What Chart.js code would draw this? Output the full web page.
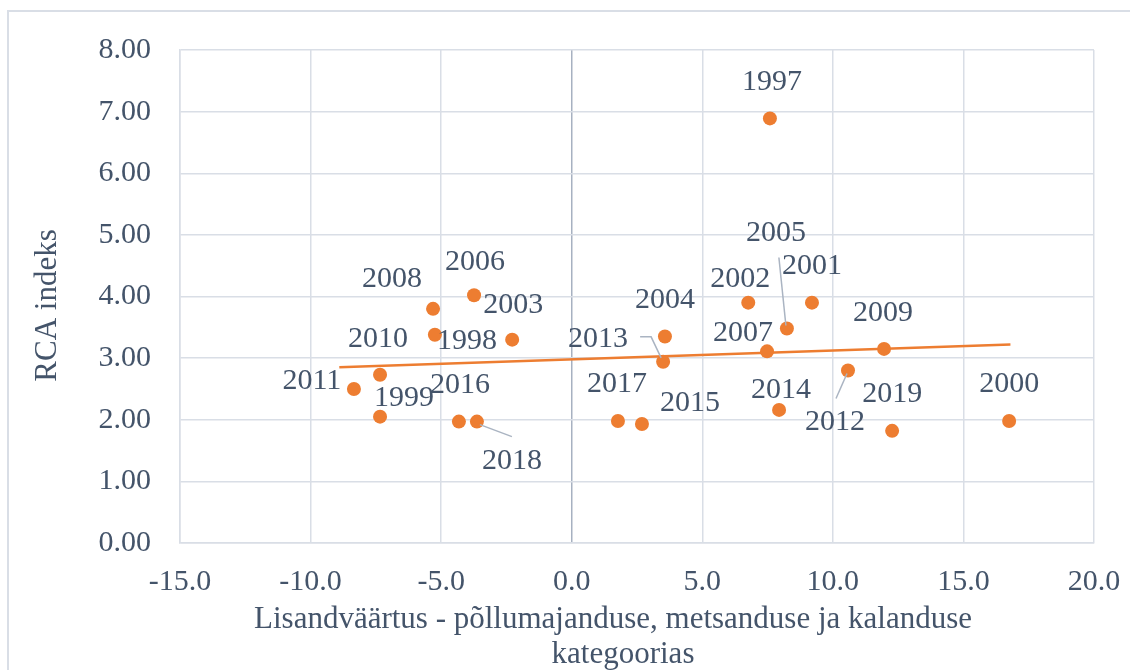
<!DOCTYPE html>
<html>
<head>
<meta charset="utf-8">
<script src="https://cdn.jsdelivr.net/npm/chart.js@4/dist/chart.umd.min.js"></script>
<style>
html, body { margin: 0; padding: 0; background: #fff; }
</style>
</head>
<body>
<canvas id="grafico" width="1130" height="670"></canvas>
<script>
// andmed (loetud jooniselt)
const aastad = ['1997','1998','1999','2000','2001','2002','2003','2004','2005','2006','2007','2008',
                '2009','2010','2011','2012','2013','2014','2015','2016','2017','2018','2019']
const lisandvaartus = [7.59, -5.24, -7.34, 16.75, 9.20, 6.76, -2.28, 3.57, 8.24, -3.74, 7.48, -5.31,
                       11.96, -7.34, -8.34, 10.58, 3.50, 7.94, 2.69, -4.32, 1.77, -3.63, 12.27]
const rcaIndeks = [6.89, 3.38, 2.05, 1.98, 3.90, 3.90, 3.30, 3.35, 3.48, 4.02, 3.11, 3.80,
                   3.15, 2.73, 2.50, 2.80, 2.94, 2.16, 1.93, 1.97, 1.98, 1.97, 1.82]
const trendX = [-8.9, 16.8]
const trendY = [2.85, 3.22]

const yTitle = 'RCA indeks'
const xTitle = ['Lisandväärtus - põllumajanduse, metsanduse ja kalanduse', 'kategoorias']

// siltide nihe punkti suhtes (px)
const sildiNihe = [[2,-36],[32,6],[24,-19],[0,-37],[0,-37],[-8,-24],[1,-35],[0,-36],[-11,-95],[1,-33],[-24,-18],[-41,-30],
                   [-1,-36],[-2,-36],[-42,-8],[-13,52],[-65,-23],[2,-20],[48,-21],[1,-36],[-1,-37],[35,40],[0,-37]]
// juhtjooned
const juhtjooned = {
    '2005': [[-8,-71],[-1,-3]],
    '2012': [[-12,28],[-1,3]],
    '2013': [[-23,-25],[-12,-25],[-2,-4]],
    '2018': [[3,3],[35,15]]
}

const tekstiVarv = '#44546a'
const ruuduVarv = '#d9dee6'
const oranz = '#ed7d31'
const font = 'Liberation Serif'

const punktid = lisandvaartus.map((x, i) => ({ x: x, y: rcaIndeks[i] }))
const trend = trendX.map((x, i) => ({ x: x, y: trendY[i] }))

const raamPlugin = {
    id: 'raam',
    beforeDraw(chart) {
        const ctx = chart.ctx
        ctx.save()
        ctx.strokeStyle = ruuduVarv
        ctx.lineWidth = 2
        ctx.strokeRect(8, 11, 1200, 800)
        ctx.restore()
    },
    afterDraw(chart) {
        const ctx = chart.ctx
        const area = chart.chartArea
        ctx.save()
        ctx.fillStyle = tekstiVarv
        ctx.font = `31px "${font}"`
        ctx.textAlign = 'center'
        ctx.textBaseline = 'middle'
        ctx.fillText(xTitle[0], 613, 620)
        ctx.fillText(xTitle[1], 623, 655)
        ctx.translate(48, (area.top + area.bottom) / 2 + 9)
        ctx.rotate(-Math.PI / 2)
        ctx.fillText(yTitle, 0, 0)
        ctx.restore()
    }
}

const siltPlugin = {
    id: 'sildid',
    afterDatasetsDraw(chart) {
        const ctx = chart.ctx
        const meta = chart.getDatasetMeta(0)
        ctx.save()
        ctx.strokeStyle = '#aab4c2'
        ctx.lineWidth = 1.5
        meta.data.forEach((p, i) => {
            const jj = juhtjooned[aastad[i]]
            if (jj) {
                ctx.beginPath()
                jj.forEach((o, k) => {
                    if (k == 0) ctx.moveTo(p.x + o[0], p.y + o[1])
                    else ctx.lineTo(p.x + o[0], p.y + o[1])
                })
                ctx.stroke()
            }
        })
        ctx.fillStyle = tekstiVarv
        ctx.font = `30px "${font}"`
        ctx.textAlign = 'center'
        ctx.textBaseline = 'middle'
        meta.data.forEach((p, i) => {
            ctx.fillText(aastad[i], p.x + sildiNihe[i][0], p.y + sildiNihe[i][1])
        })
        ctx.restore()
    }
}

const config = {
    type: 'scatter',
    data: {
        datasets: [{
            label: 'RCA',
            data: punktid,
            backgroundColor: oranz,
            borderColor: oranz,
            pointRadius: 7,
            borderWidth: 0
        }, {
            label: 'trend',
            data: trend,
            showLine: true,
            pointRadius: 0,
            borderColor: oranz,
            borderWidth: 2.5
        }]
    },
    options: {
        responsive: false,
        animation: false,
        devicePixelRatio: 1,
        layout: { padding: { top: 50, right: 36, left: 0, bottom: 0 } },
        plugins: { legend: { display: false }, tooltip: { enabled: false } },
        scales: {
            x: {
                type: 'linear',
                min: -15,
                max: 20,
                afterFit: s => {
                    s.height = 127
                    s.paddingLeft = 0
                    s.paddingRight = 0
                },
                ticks: {
                    stepSize: 5,
                    padding: 21,
                    color: tekstiVarv,
                    font: { family: font, size: 30 },
                    callback: v => v.toFixed(1)
                },
                grid: {
                    drawTicks: false,
                    lineWidth: 1.5,
                    color: c => (c.tick && c.tick.value === 0) ? '#a7b1c1' : ruuduVarv
                },
                border: { color: ruuduVarv, width: 1.5 }
            },
            y: {
                min: 0,
                max: 8,
                afterFit: s => {
                    s.width = 180
                    s.paddingTop = 0
                    s.paddingBottom = 0
                },
                ticks: {
                    stepSize: 1,
                    padding: 29,
                    color: tekstiVarv,
                    font: { family: font, size: 30 },
                    callback: v => v.toFixed(2)
                },
                grid: { drawTicks: false, lineWidth: 1.5, color: ruuduVarv },
                border: { color: ruuduVarv, width: 1.5 }
            }
        }
    },
    plugins: [raamPlugin, siltPlugin]
}

const grafico = new Chart(document.getElementById('grafico'), config)
</script>
</body>
</html>
